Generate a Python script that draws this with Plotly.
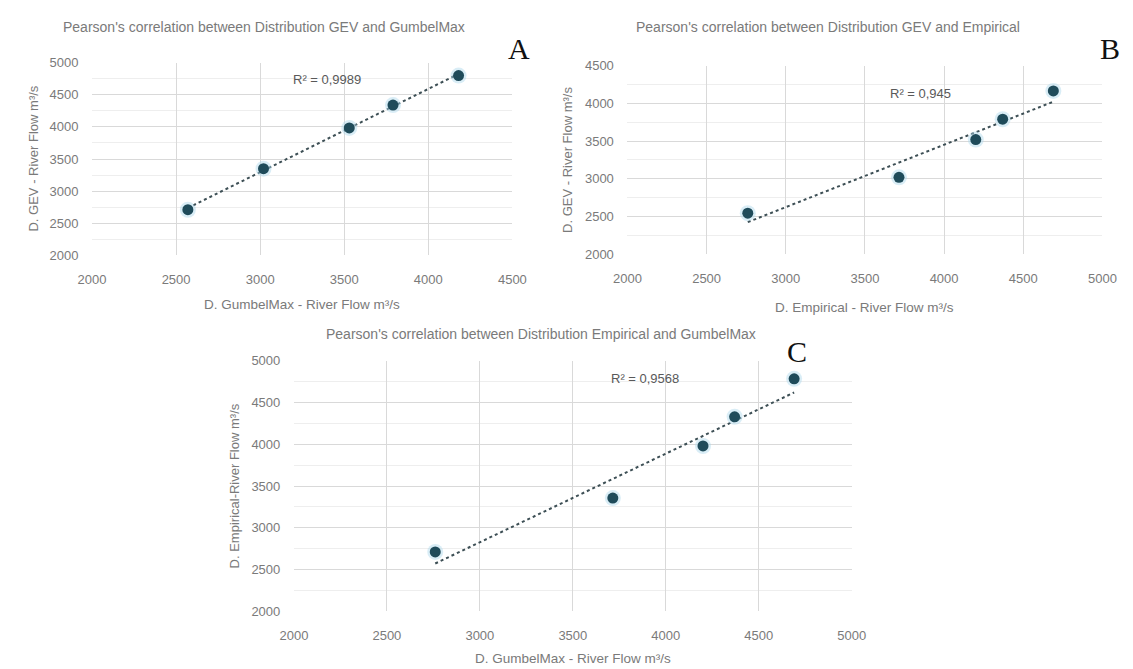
import numpy as np
import plotly.graph_objects as go

# ---- data ----
a_x = [2570, 3020, 3530, 3790, 4180]   # D. GumbelMax
a_y = [2710, 3350, 3985, 4340, 4800]   # D. GEV
b_x = [2760, 3715, 4200, 4370, 4690]   # D. Empirical
b_y = [2545, 3020, 3520, 3790, 4165]   # D. GEV
c_x = [2760, 3715, 4200, 4370, 4690]   # labelled D. GumbelMax
c_y = [2710, 3355, 3980, 4330, 4785]   # D. Empirical

titles = ["Pearson's correlation between Distribution GEV and GumbelMax",
          "Pearson's correlation between Distribution GEV and Empirical",
          "Pearson's correlation between Distribution Empirical and GumbelMax"]
x_titles = ["D. GumbelMax - River Flow m³/s", "D. Empirical - River Flow m³/s",
            "D. GumbelMax - River Flow m³/s"]
y_titles = ["D. GEV - River Flow m³/s", "D. GEV - River Flow m³/s",
            "D. Empirical-River Flow m³/s"]
r2_labels = ["R² = 0,9989", "R² = 0,945", "R² = 0,9568"]
letters = ["A", "B", "C"]

x_ranges = [[2000, 4500], [2000, 5000], [2000, 5000]]
y_ranges = [[2000, 5000], [2000, 4500], [2000, 5000]]
r2_pos = [(3400, 4740), (3850, 4130), (3890, 4790)]

W, H = 1133, 669
# plot areas in pixels: (left, right, top, bottom)
boxes = [(80, 511, 57, 254), (629, 1116, 60, 253), (287, 859, 362, 618)]
xtitle_dy = [50, 54, 48]

MARK = "#1f4b5a"
GRID = "#d9d9d9"
TXT = "#7a7a7a"
FONT = "Liberation Sans"

fig = go.Figure()
series = [(a_x, a_y), (b_x, b_y), (c_x, c_y)]
annotations = []
for i, ((xs, ys), (l, r, t, b)) in enumerate(zip(series, boxes)):
    n = "" if i == 0 else str(i + 1)
    xa, ya = "x" + n, "y" + n
    xs_a = np.array(xs, float)
    ys_a = np.array(ys, float)
    k, c0 = np.polyfit(xs_a, ys_a, 1)
    tx = np.array([xs_a.min(), xs_a.max()])
    fig.add_trace(go.Scatter(x=tx, y=k * tx + c0, mode="lines", xaxis=xa, yaxis=ya,
                             line=dict(color="#3d4f55", width=2, dash="dot"),
                             showlegend=False, hoverinfo="skip"))
    fig.add_trace(go.Scatter(x=xs, y=ys, mode="markers", xaxis=xa, yaxis=ya,
                             marker=dict(size=16, color="rgba(170,215,235,0.45)"),
                             showlegend=False, hoverinfo="skip"))
    fig.add_trace(go.Scatter(x=xs, y=ys, mode="markers", xaxis=xa, yaxis=ya,
                             marker=dict(size=11, color=MARK), showlegend=False))
    axis_common = dict(showgrid=True, gridcolor=GRID, gridwidth=1, zeroline=False,
                       showline=False, ticks="outside", tickcolor="rgba(0,0,0,0)",
                       tickfont=dict(family=FONT, size=13, color=TXT), dtick=500)
    fig.update_layout(**{
        "xaxis" + n: dict(axis_common, range=x_ranges[i], domain=[l / W, r / W],
                          anchor=ya, ticklen=12),
        "yaxis" + n: dict(axis_common, range=y_ranges[i], domain=[1 - b / H, 1 - t / H],
                          anchor=xa, ticklen=10,
                          minor=dict(dtick=250, showgrid=True, gridcolor="#eeeeee")),
    })
    # axis titles
    annotations.append(dict(text=x_titles[i], xref="paper", yref="paper",
                            x=(l + r) / 2 / W, y=1 - (b + xtitle_dy[i]) / H,
                            xanchor="center", yanchor="middle", showarrow=False,
                            font=dict(family=FONT, size=13.5, color=TXT)))
    annotations.append(dict(text=y_titles[i], xref="paper", yref="paper",
                            x=(l - 61) / W, y=1 - (t + b) / 2 / H,
                            xanchor="center", yanchor="middle", showarrow=False,
                            textangle=-90, font=dict(family=FONT, size=13, color=TXT)))
    annotations.append(dict(text=r2_labels[i], xref=xa, yref=ya,
                            x=r2_pos[i][0], y=r2_pos[i][1], showarrow=False,
                            xanchor="center", yanchor="middle",
                            font=dict(family=FONT, size=13, color="#595959")))

title_pos = [(256, 20), (835, 20), (540, 335)]
letter_pos = [(518, 42), (1124, 42), (803, 352)]
for i in range(3):
    annotations.append(dict(text=titles[i], xref="paper", yref="paper",
                            x=title_pos[i][0] / W, y=1 - title_pos[i][1] / H,
                            xanchor="center", yanchor="middle",
                            showarrow=False, font=dict(family=FONT, size=14, color=TXT)))
    annotations.append(dict(text=letters[i], xref="paper", yref="paper",
                            x=letter_pos[i][0] / W, y=1 - letter_pos[i][1] / H,
                            xanchor="center", yanchor="middle", showarrow=False,
                            font=dict(family="Liberation Serif", size=30, color="#111111")))

fig.update_layout(width=W, height=H, margin=dict(l=0, r=0, t=0, b=0),
                  plot_bgcolor="white", paper_bgcolor="white",
                  annotations=annotations, showlegend=False)
fig.write_html("out.html")
